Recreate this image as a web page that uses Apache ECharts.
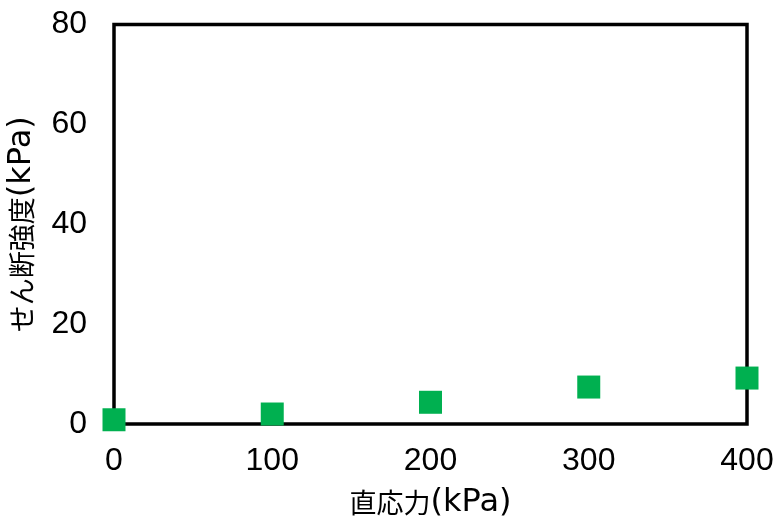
<!DOCTYPE html>
<html>
<head>
<meta charset="utf-8">
<script src="https://cdn.jsdelivr.net/npm/echarts@6/dist/echarts.min.js"></script>
<style>html,body{margin:0;padding:0;background:#fff}#c{width:774px;height:524px}</style>
</head>
<body>
<div id="c"></div>
<script>
const normalStress = [0, 100, 200, 300, 400];
const shearStrength = [0.85, 2.0, 4.35, 7.4, 9.2];
const xTitle = ['直応力', '(kPa)'];
const yTitle = ['せん断強度', '(kPa)'];

const NUM = "'Liberation Sans',Arial,sans-serif";
const LAT = "'DejaVu Sans',sans-serif";
const CJK = "'Noto Sans CJK JP',sans-serif";
const rich = {
  cjk: {fontFamily: CJK, fontSize: 27, color: '#000'},
  lat: {fontFamily: LAT, fontSize: 32, color: '#000'}
};
const chart = echarts.init(document.getElementById('c'), null, {renderer: 'canvas'});
chart.setOption({
  animation: false,
  backgroundColor: '#fff',
  grid: {left: 114, right: 27, top: 24.5, bottom: 100, containLabel: false, outerBoundsMode: 'none',
         show: true, borderColor: '#000', borderWidth: 3.5, backgroundColor: 'transparent'},
  xAxis: {
    type: 'value', min: 0, max: 400, interval: 100,
    axisLine: {show: false}, axisTick: {show: false}, splitLine: {show: false},
    axisLabel: {fontFamily: NUM, fontSize: 32, color: '#000', margin: 21},
    name: '{cjk|' + xTitle[0] + '}{lat|' + xTitle[1] + '}',
    nameLocation: 'middle', nameGap: 63,
    nameTextStyle: {rich: rich}
  },
  yAxis: {
    type: 'value', min: 0, max: 80, interval: 20,
    axisLine: {show: false}, axisTick: {show: false}, splitLine: {show: false},
    axisLabel: {fontFamily: NUM, fontSize: 32, color: '#000', margin: 27},
    name: '{cjk|' + yTitle[0] + '}{lat|' + yTitle[1] + '}',
    nameLocation: 'middle', nameGap: 76, nameRotate: 90,
    nameTextStyle: {rich: rich}
  },
  series: [{
    type: 'scatter',
    data: normalStress.map((x, i) => [x, shearStrength[i]]),
    symbol: 'rect', symbolSize: 23,
    itemStyle: {color: '#00B050', opacity: 1},
    z: 10
  }]
});
</script>
</body>
</html>
